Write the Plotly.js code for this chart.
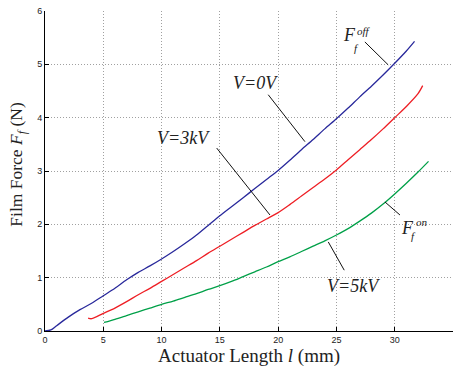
<!DOCTYPE html>
<html>
<head>
<meta charset="utf-8">
<script src="https://cdn.plot.ly/plotly-3.0.1.min.js"></script>
<style>html,body{margin:0;padding:0;background:#fff;}#chart{width:455px;height:369px;}</style>
</head>
<body>
<div id="chart"></div>
<script>
// Actuator length l (mm) and film force (N) for each voltage
const blueX = [0, 0.5, 1, 2, 3, 4, 5, 6, 7, 8, 9, 10, 11, 12, 13, 14, 15, 16, 17, 18, 19, 20, 21, 22, 23, 24, 25, 26, 27, 28, 29, 30, 31, 31.7];
const blueY = [0.0, 0.02, 0.1, 0.26, 0.4, 0.52, 0.66, 0.8, 0.96, 1.1, 1.22, 1.35, 1.49, 1.64, 1.8, 1.98, 2.16, 2.33, 2.5, 2.67, 2.84, 3.01, 3.2, 3.4, 3.59, 3.79, 3.98, 4.18, 4.39, 4.59, 4.8, 5.02, 5.25, 5.43];

const redX = [3.7, 4, 5, 6, 7, 8, 9, 10, 11, 12, 13, 14, 15, 16, 17, 18, 19, 20, 21, 22, 23, 24, 25, 26, 27, 28, 29, 30, 31, 32, 32.4];
const redY = [0.24, 0.23, 0.33, 0.43, 0.55, 0.68, 0.8, 0.93, 1.06, 1.19, 1.32, 1.46, 1.59, 1.72, 1.85, 1.98, 2.1, 2.22, 2.37, 2.53, 2.69, 2.85, 3.02, 3.21, 3.4, 3.59, 3.79, 4.0, 4.21, 4.45, 4.6];

const greenX = [5.06, 6, 7, 8, 9, 10, 11, 12, 13, 14, 15, 16, 17, 18, 19, 20, 21, 22, 23, 24, 25, 26, 27, 28, 29, 30, 31, 32, 32.9];
const greenY = [0.16, 0.22, 0.29, 0.36, 0.43, 0.5, 0.56, 0.63, 0.7, 0.78, 0.85, 0.93, 1.02, 1.11, 1.2, 1.3, 1.39, 1.49, 1.59, 1.69, 1.8, 1.92, 2.06, 2.21, 2.38, 2.57, 2.77, 2.98, 3.18];

const xTicks = [0, 5, 10, 15, 20, 25, 30, 35];
const yTicks = [0, 1, 2, 3, 4, 5, 6];

const serif = "Liberation Serif, Times New Roman, serif";
const sans = "Liberation Sans, Arial, sans-serif";

const traces = [
  {x: blueX, y: blueY, mode: 'lines', line: {color: 'rgb(40,40,155)', width: 1.3, shape: 'spline', smoothing: 0.8}, hoverinfo: 'skip'},
  {x: redX, y: redY, mode: 'lines', line: {color: 'rgb(238,30,36)', width: 1.3, shape: 'spline', smoothing: 0.8}, hoverinfo: 'skip'},
  {x: greenX, y: greenY, mode: 'lines', line: {color: 'rgb(0,160,72)', width: 1.3, shape: 'spline', smoothing: 0.8}, hoverinfo: 'skip'}
];

function ln(x0, y0, x1, y1) {
  return {type: 'line', xref: 'x', yref: 'y', x0: x0, y0: y0, x1: x1, y1: y1, line: {color: '#111', width: 1}};
}
function txt(x, y, t, size) {
  return {x: x, y: y, xref: 'x', yref: 'y', text: t, showarrow: false,
          font: {family: serif, size: size, color: '#222'}, xanchor: 'center', yanchor: 'middle'};
}

const layout = {
  width: 455, height: 369,
  margin: {l: 45, r: 2, t: 11, b: 38},
  paper_bgcolor: '#fff', plot_bgcolor: '#fff',
  showlegend: false,
  xaxis: {
    range: [0, 35], tickvals: xTicks, ticktext: xTicks.map(String),
    showgrid: true, gridcolor: '#a0a0a0', griddash: '1px,2px', gridwidth: 1,
    zeroline: false, showline: true, linecolor: '#000', linewidth: 1,
    ticks: 'inside', ticklen: 4, tickcolor: '#000',
    tickfont: {family: sans, size: 9, color: '#222'}
  },
  yaxis: {
    range: [0, 6], tickvals: yTicks, ticktext: yTicks.map(String),
    showgrid: true, gridcolor: '#a0a0a0', griddash: '1px,2px', gridwidth: 1,
    zeroline: false, showline: true, linecolor: '#000', linewidth: 1,
    ticks: 'inside', ticklen: 4, tickcolor: '#000',
    tickfont: {family: sans, size: 9, color: '#222'}
  },
  shapes: [
    ln(19.15, 4.43, 22.3, 3.55),
    ln(14.73, 3.43, 19.3, 2.175),
    ln(27.44, 5.42, 29.44, 4.99),
    ln(25.67, 1.14, 24.3, 1.67),
    ln(30.45, 2.175, 29.16, 2.42)
  ],
  annotations: [
    txt(18.1, 4.65, '<i>V=0V</i>', 18),
    txt(11.84, 3.62, '<i>V=3kV</i>', 18),
    txt(26.5, 0.84, '<i>V=5kV</i>', 18),
    txt(26.1, 5.55, '<i>F</i>', 18),
    txt(27.4, 5.63, '<i>off</i>', 11),
    txt(26.7, 5.3, '<i>f</i>', 11),
    txt(31.1, 1.93, '<i>F</i>', 18),
    txt(32.3, 2.04, '<i>on</i>', 11),
    txt(31.65, 1.79, '<i>f</i>', 11),
    {x: 0.5, y: -0.078, xref: 'paper', yref: 'paper', showarrow: false,
     text: 'Actuator Length <i>l</i> (mm)', font: {family: serif, size: 19, color: '#222'},
     xanchor: 'center', yanchor: 'middle'},
    {x: -0.066, y: 0.52, xref: 'paper', yref: 'paper', showarrow: false, textangle: -90,
     text: 'Film Force <i>F</i><sub><i>f</i></sub> (N)', font: {family: serif, size: 17.5, color: '#222'},
     xanchor: 'center', yanchor: 'middle'}
  ]
};

Plotly.newPlot('chart', traces, layout, {staticPlot: true, displayModeBar: false});
</script>
</body>
</html>
